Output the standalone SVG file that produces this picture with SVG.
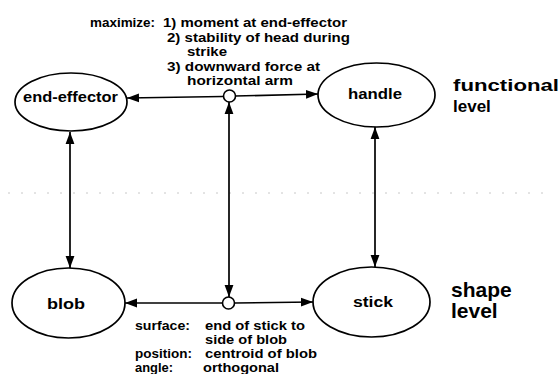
<svg xmlns="http://www.w3.org/2000/svg" width="559" height="374" viewBox="0 0 559 374">
<style>
  .node { fill: #ffffff; stroke: #000000; stroke-width: 1.7; }
  .lbl { font-family: "Liberation Sans", Arial, sans-serif; font-weight: bold; fill: #000000; }
  .nl { font-size: 14px; }
  .ann { font-size: 13.5px; }
  .lvl { font-size: 21px; }
  .edge { fill: none; stroke: #000000; stroke-width: 1.7; }
  .junction { fill: #ffffff; stroke: #000000; stroke-width: 1.6; }
</style>
<defs>
  <marker id="arr" markerUnits="userSpaceOnUse" markerWidth="13" markerHeight="10" viewBox="0 0 13 10" refX="12" refY="5" orient="auto-start-reverse">
    <path d="M0,0.6 L12,5 L0,9.4 z" fill="#000000"/>
  </marker>
</defs>
<rect width="559" height="374" fill="#ffffff"/>
<line x1="8" y1="193" x2="545" y2="193" stroke="#c8c8c8" stroke-width="1" stroke-dasharray="2 11"/>

<g id="connectors">
  <line class="edge" x1="70" y1="132" x2="70" y2="268" marker-start="url(#arr)" marker-end="url(#arr)"/>
  <line class="edge" x1="375" y1="127" x2="375" y2="267" marker-start="url(#arr)" marker-end="url(#arr)"/>
  <line class="edge" x1="229" y1="102" x2="229" y2="297" marker-start="url(#arr)" marker-end="url(#arr)"/>
  <line class="edge" x1="223" y1="96.5" x2="127" y2="98" marker-end="url(#arr)"/>
  <line class="edge" x1="235" y1="96" x2="318" y2="94" marker-end="url(#arr)"/>
  <line class="edge" x1="223" y1="303" x2="125" y2="303" marker-end="url(#arr)"/>
  <line class="edge" x1="235" y1="303" x2="313" y2="302" marker-end="url(#arr)"/>
  <circle class="junction" cx="229.5" cy="96" r="6"/>
  <circle class="junction" cx="228.5" cy="303" r="6"/>
</g>

<g id="end-effector">
  <ellipse class="node" cx="71" cy="102" rx="56" ry="29"/>
  <text class="lbl nl" x="23" y="102" textLength="95" lengthAdjust="spacingAndGlyphs">end-effector</text>
</g>
<g id="handle">
  <ellipse class="node" cx="376.5" cy="95" rx="58.5" ry="32"/>
  <text class="lbl nl" x="348" y="99" textLength="54" lengthAdjust="spacingAndGlyphs">handle</text>
</g>
<g id="blob">
  <ellipse class="node" cx="68.5" cy="303" rx="56.5" ry="35"/>
  <text class="lbl nl" x="47" y="309" textLength="38" lengthAdjust="spacingAndGlyphs">blob</text>
</g>
<g id="stick">
  <ellipse class="node" cx="371.5" cy="302" rx="58.5" ry="35"/>
  <text class="lbl nl" x="353" y="307" textLength="40" lengthAdjust="spacingAndGlyphs">stick</text>
</g>

<g id="maximize-note">
  <text class="lbl ann" x="90" y="27" textLength="65" lengthAdjust="spacingAndGlyphs">maximize:</text>
  <text class="lbl ann" x="163" y="27" textLength="184" lengthAdjust="spacingAndGlyphs">1) moment at end-effector</text>
  <text class="lbl ann" x="167" y="42" textLength="183" lengthAdjust="spacingAndGlyphs">2) stability of head during</text>
  <text class="lbl ann" x="187" y="56" textLength="40" lengthAdjust="spacingAndGlyphs">strike</text>
  <text class="lbl ann" x="167" y="71" textLength="153" lengthAdjust="spacingAndGlyphs">3) downward force at</text>
  <text class="lbl ann" x="187" y="85" textLength="106" lengthAdjust="spacingAndGlyphs">horizontal arm</text>
</g>

<g id="relation-note">
  <text class="lbl ann" x="135" y="330" textLength="55" lengthAdjust="spacingAndGlyphs">surface:</text>
  <text class="lbl ann" x="205" y="330" textLength="100" lengthAdjust="spacingAndGlyphs">end of stick to</text>
  <text class="lbl ann" x="205" y="344" textLength="82" lengthAdjust="spacingAndGlyphs">side of blob</text>
  <text class="lbl ann" x="135" y="358" textLength="57" lengthAdjust="spacingAndGlyphs">position:</text>
  <text class="lbl ann" x="205" y="358" textLength="112" lengthAdjust="spacingAndGlyphs">centroid of blob</text>
  <text class="lbl ann" x="135" y="372" textLength="38" lengthAdjust="spacingAndGlyphs">angle:</text>
  <text class="lbl ann" x="203" y="372" textLength="76" lengthAdjust="spacingAndGlyphs">orthogonal</text>
</g>

<g id="functional-level">
  <text class="lbl" style="font-size:17px" x="453" y="91" textLength="106" lengthAdjust="spacingAndGlyphs">functional</text>
  <text class="lbl" style="font-size:17px" x="453" y="112">level</text>
</g>
<g id="shape-level">
  <text class="lbl lvl" x="451" y="297">shape</text>
  <text class="lbl lvl" x="451" y="318">level</text>
</g>
</svg>
